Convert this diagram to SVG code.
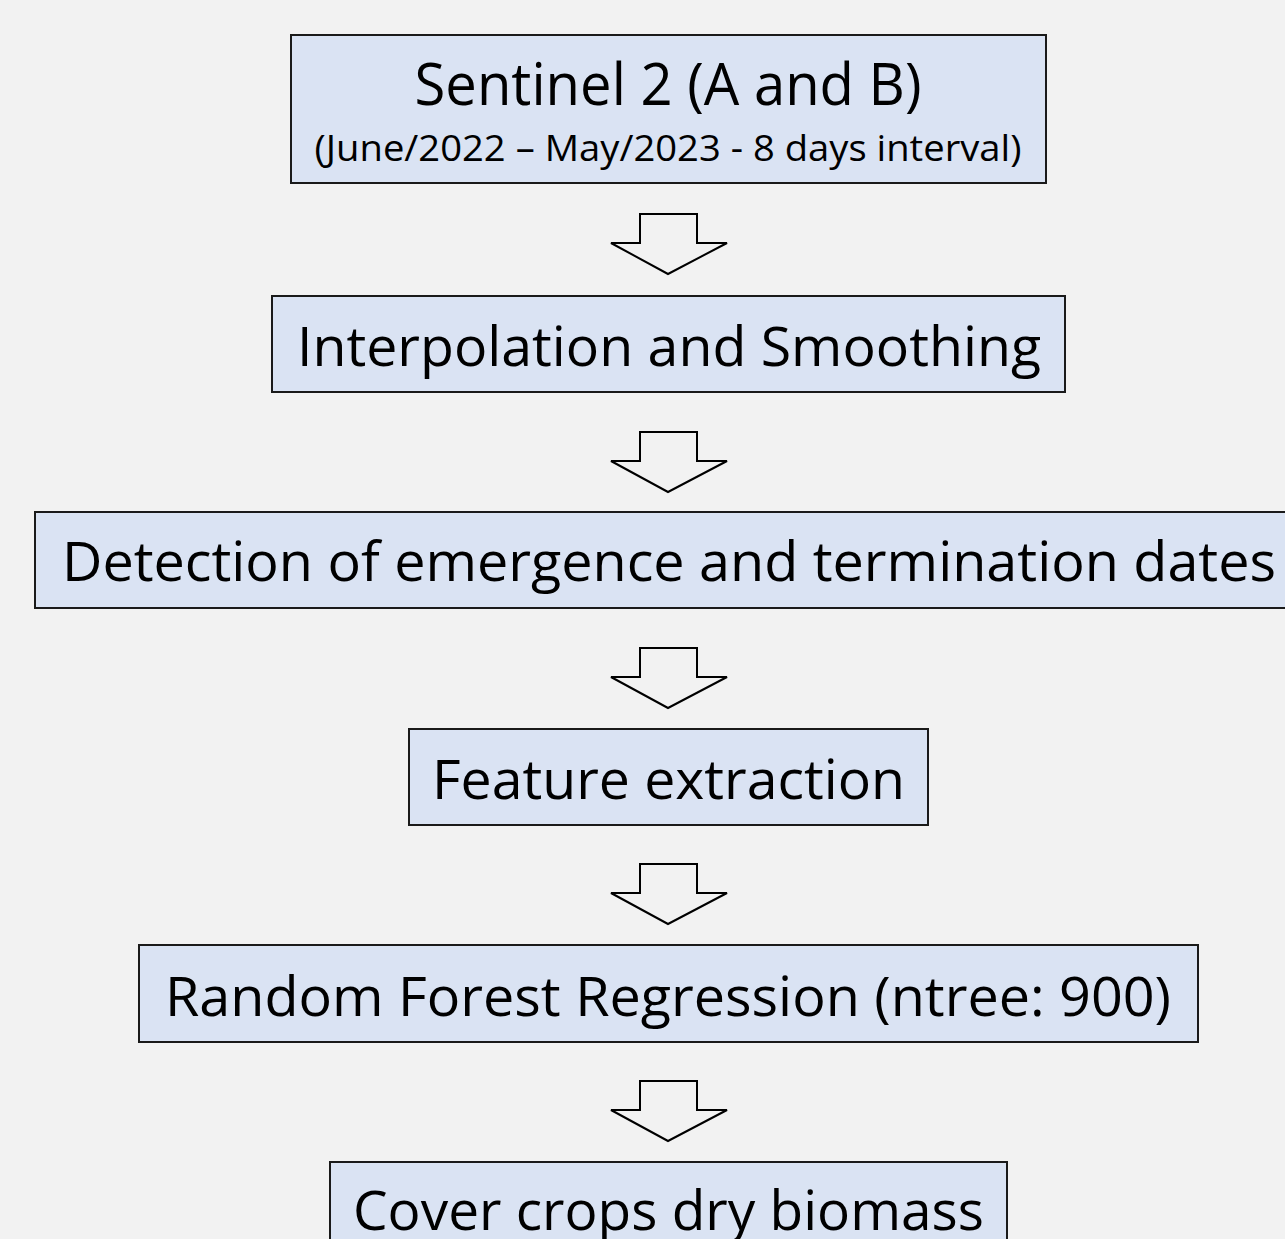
<svg xmlns="http://www.w3.org/2000/svg" width="1285" height="1239" viewBox="0 0 1285 1239">
<style>
.box{fill:#dae3f3;stroke:#1a1a1a;stroke-width:2}
.t{font-family:"Open Sans","Liberation Sans",sans-serif;fill:#000;text-anchor:middle}
.arr{fill:#f2f2f2;stroke:#000;stroke-width:2;stroke-linejoin:miter}
</style>
<defs>
<path id="downArrow" d="M-28,0 H29 V29 H59 L0,60 L-57,29 H-28 Z"/>
</defs>
<rect width="1285" height="1239" fill="#f2f2f2"/>
<g id="connectors">
<use href="#downArrow" class="arr" x="668" y="214"/>
<use href="#downArrow" class="arr" x="668" y="432"/>
<use href="#downArrow" class="arr" x="668" y="648"/>
<use href="#downArrow" class="arr" x="668" y="864"/>
<use href="#downArrow" class="arr" x="668" y="1081"/>
</g>
<g id="n1">
<rect class="box" x="291" y="35" width="755" height="148"/>
<text class="t" x="668" y="105" font-size="58" textLength="507" lengthAdjust="spacingAndGlyphs">Sentinel 2 (A and B)</text>
<text class="t" x="668" y="161" font-size="37" textLength="707" lengthAdjust="spacingAndGlyphs">(June/2022 – May/2023 - 8 days interval)</text>
</g>
<g id="n2">
<rect class="box" x="272" y="296" width="793" height="96"/>
<text class="t" x="669" y="366" font-size="55" textLength="744" lengthAdjust="spacingAndGlyphs">Interpolation and Smoothing</text>
</g>
<g id="n3">
<rect class="box" x="35" y="512" width="1260" height="96"/>
<text class="t" x="669" y="581" font-size="55" textLength="1214" lengthAdjust="spacingAndGlyphs">Detection of emergence and termination dates</text>
</g>
<g id="n4">
<rect class="box" x="409" y="729" width="519" height="96"/>
<text class="t" x="668.5" y="799" font-size="55" textLength="473" lengthAdjust="spacingAndGlyphs">Feature extraction</text>
</g>
<g id="n5">
<rect class="box" x="139" y="945" width="1059" height="97"/>
<text class="t" x="668" y="1016" font-size="55" textLength="1006" lengthAdjust="spacingAndGlyphs">Random Forest Regression (ntree: 900)</text>
</g>
<g id="n6">
<rect class="box" x="330" y="1162" width="677" height="100"/>
<text class="t" x="668.5" y="1230" font-size="55" textLength="631" lengthAdjust="spacingAndGlyphs">Cover crops dry biomass</text>
</g>
</svg>
